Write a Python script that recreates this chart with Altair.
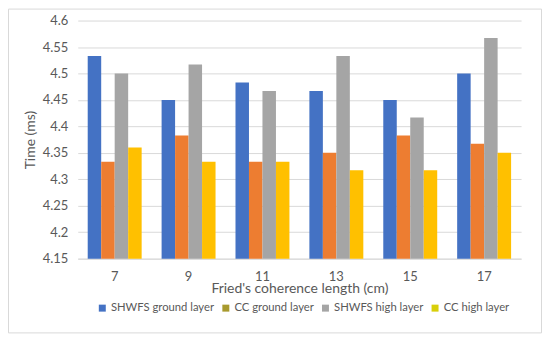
import altair as alt
import pandas as pd

categories = ["7", "9", "11", "13", "15", "17"]
series = ["SHWFS ground layer", "CC ground layer", "SHWFS high layer", "CC high layer"]
shwfs_ground = [4.533, 4.450, 4.483, 4.467, 4.450, 4.500]
cc_ground = [4.333, 4.383, 4.333, 4.350, 4.383, 4.367]
shwfs_high = [4.500, 4.517, 4.467, 4.533, 4.417, 4.567]
cc_high = [4.360, 4.333, 4.333, 4.317, 4.317, 4.350]
y_ticks = [4.15, 4.2, 4.25, 4.3, 4.35, 4.4, 4.45, 4.5, 4.55, 4.6]

bar_colors = ["#4472C4", "#ED7D31", "#A5A5A5", "#FFC000"]
legend_colors = ["#4472C4", "#A89A2E", "#A5A5A5", "#D8CF0A"]

rows = []
for s, vals in zip(series, [shwfs_ground, cc_ground, shwfs_high, cc_high]):
    for c, v in zip(categories, vals):
        rows.append({"r0": c, "series": s, "time": v})
df = pd.DataFrame(rows)

FONT = "Lato"

y_scale = alt.Scale(domain=[4.15, 4.6], zero=False, nice=False)

bars = (
    alt.Chart(df)
    .mark_bar()
    .encode(
        x=alt.X(
            "r0:N",
            sort=categories,
            scale=alt.Scale(paddingInner=0.27, paddingOuter=0.135),
            axis=alt.Axis(
                title="Fried's coherence length (cm)",
                labelAngle=0,
                ticks=False,
                domain=True,
                domainColor="#d9d9d9",
                labelPadding=12,
                titlePadding=-2,
                grid=False,
            ),
        ),
        xOffset=alt.XOffset("series:N", sort=series),
        y=alt.Y(
            "time:Q",
            scale=y_scale,
            axis=alt.Axis(
                title="Time (ms)",
                values=y_ticks,
                format=".2~f",
                labelOverlap=False,
                ticks=False,
                domain=False,
                gridColor="#d9d9d9",
                labelPadding=10,
                titlePadding=5,
            ),
        ),
        y2=alt.datum(4.15),
        color=alt.Color(
            "series:N",
            sort=series,
            scale=alt.Scale(domain=series, range=bar_colors),
            legend=None,
        ),
    )
)

# invisible layer (no position, zero size) that only carries the legend swatches
legend_layer = (
    alt.Chart(df)
    .mark_point(shape="square", filled=True, size=0)
    .encode(
        fill=alt.Fill(
            "series:N",
            sort=series,
            scale=alt.Scale(domain=series, range=legend_colors),
            legend=alt.Legend(
                title=None,
                orient="none",
                legendX=19,
                legendY=283,
                direction="horizontal",
                gridAlign="none",
                symbolType="square",
                symbolSize=49,
                symbolOpacity=1,
                labelFontSize=11.3,
                labelColor="#595959",
                labelFont=FONT,
                labelLimit=300,
                columnPadding=6,
                symbolOffset=0,
                labelOffset=3,
            ),
        ),
    )
)

border_df = pd.DataFrame({"k": [0]})
border = (
    alt.Chart(border_df)
    .mark_rect(fill=None, stroke="#d9d9d9", strokeWidth=1)
    .encode(
        x=alt.value(-69.5),
        x2=alt.value(465.5),
        y=alt.value(-11.5),
        y2=alt.value(313.5),
    )
)

chart = (
    alt.layer(bars, legend_layer, border)
    .resolve_scale(color="independent", fill="independent")
    .properties(
        width=445,
        height=239,
        autosize=alt.AutoSizeParams(type="none"),
        padding={"left": 70, "top": 12, "right": 21, "bottom": 75},
        background="white",
    )
    .configure_view(stroke=None)
    .configure_axis(
        labelFont=FONT,
        titleFont=FONT,
        labelFontSize=13,
        titleFontSize=14,
        labelColor="#595959",
        titleColor="#595959",
        titleFontWeight="normal",
    )
)

chart.save("out.html", embed_options={"renderer": "svg", "actions": False})
